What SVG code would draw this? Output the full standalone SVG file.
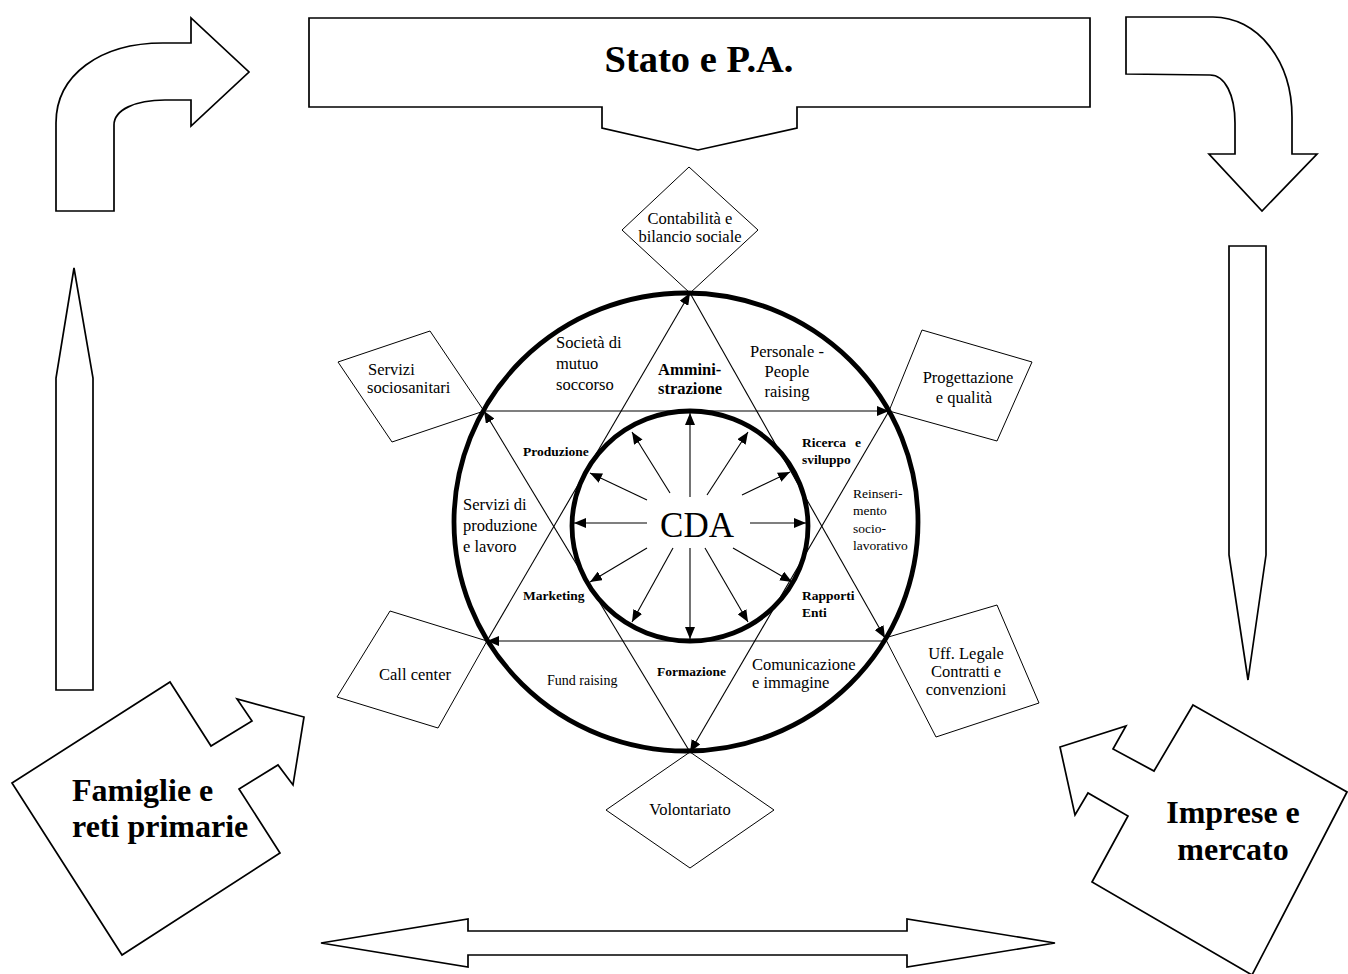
<svg xmlns="http://www.w3.org/2000/svg" width="1348" height="974" viewBox="0 0 1348 974">
<defs>
<style>
.sh{fill:#fff;stroke:#000;stroke-width:1.7;stroke-linejoin:miter}
.dm{fill:#fff;stroke:#000;stroke-width:1}
.ring{fill:none;stroke:#000;stroke-width:4.8}
.ln{fill:none;stroke:#000;stroke-width:1.1}
.t{font-family:"Liberation Serif","Times New Roman",serif;font-size:16.5px;fill:#000}
.s{font-size:13.5px}
.b{font-weight:bold}
.big{font-family:"Liberation Serif","Times New Roman",serif;font-weight:bold;fill:#000}
.m{text-anchor:middle}
</style>
<marker id="ah" viewBox="0 0 12 10" refX="12" refY="5" markerWidth="12" markerHeight="10" markerUnits="userSpaceOnUse" orient="auto">
<path d="M0,0 L12,5 L0,10 Z" fill="#000"/>
</marker>
</defs>
<rect width="1348" height="974" fill="#fff"/>

<g id="stato">
<path class="sh" d="M309,18 L1090,18 L1090,107 L797,107 L797,128 L698,150 L602,128 L602,107 L309,107 Z"/>
<text class="big m" x="699" y="72" style="font-size:38.5px">Stato e P.A.</text>
</g>

<g id="arrow-topleft">
<path class="sh" d="M56,211 L56,123 C56,75 100,43 163,43 L191,43 L191,18 L249,72 L191,126 L191,100 L165,100 C135,100 114,110 114,125 L114,211 Z"/>
</g>

<g id="arrow-topright">
<path class="sh" d="M1126,17 L1213,17 C1257,17 1292,60 1292,117 L1292,154 L1317,154 L1262,211 L1209,154 L1235,154 L1235,123 C1235,95 1225,75 1210,75 L1126,74 Z"/>
</g>

<g id="arrow-left">
<path class="sh" d="M74,268 L93,378 L93,690 L56,690 L56,378 Z"/>
</g>

<g id="arrow-right">
<path class="sh" d="M1229,246 L1266,246 L1266,555 L1248,680 L1229,555 Z"/>
</g>

<g id="arrow-bottom">
<path class="sh" d="M321,943 L468,919 L468,931 L907,931 L907,919 L1055,943 L907,967 L907,955 L468,955 L468,967 Z"/>
</g>

<g id="famiglie">
<path class="sh" d="M12,783 L170,682 L211,746 L252,721 L237,699 L304,717 L293,785 L278,765 L239,789 L280,853 L122,955 Z"/>
<text class="big" x="72" y="801" style="font-size:32px">Famiglie e</text>
<text class="big" x="72" y="837" style="font-size:32px">reti primarie</text>
</g>

<g id="imprese">
<path class="sh" d="M1193,705 L1347,792 L1252,975 L1092,882 L1128,816 L1088,793 L1075,815 L1060,747 L1126,726 L1113,749 L1154,771 Z"/>
<text class="big m" x="1233" y="823" style="font-size:32px">Imprese e</text>
<text class="big m" x="1233" y="860" style="font-size:32px">mercato</text>
</g>

<g id="d-contabilita">
<path class="dm" d="M689,167 L758,230 L690,293 L622,230 Z"/>
<text class="t m" x="690" y="224">Contabilità e</text>
<text class="t m" x="690" y="242">bilancio sociale</text>
</g>

<g id="d-servizi-socio">
<path class="dm" d="M338,362 L430,331 L484,411 L392,442 Z"/>
<text class="t" x="368" y="375">Servizi</text>
<text class="t" x="367" y="393">sociosanitari</text>
</g>

<g id="d-progettazione">
<path class="dm" d="M889,411 L922,330 L1032,362 L997,441 Z"/>
<text class="t m" x="968" y="383">Progettazione</text>
<text class="t m" x="964" y="403">e qualità</text>
</g>

<g id="d-callcenter">
<path class="dm" d="M390,611 L487,641 L438,728 L337,697 Z"/>
<text class="t m" x="415" y="680">Call center</text>
</g>

<g id="d-legale">
<path class="dm" d="M885,638 L997,605 L1039,703 L936,737 Z"/>
<text class="t m" x="966" y="659">Uff. Legale</text>
<text class="t m" x="966" y="677">Contratti e</text>
<text class="t m" x="966" y="695">convenzioni</text>
</g>

<g id="d-volontariato">
<path class="dm" d="M690,752 L774,810 L690,868 L606,810 Z"/>
<text class="t m" x="690" y="815">Volontariato</text>
</g>

<g id="rings">
<ellipse class="ring" cx="686" cy="522" rx="232" ry="229"/>
<ellipse class="ring" cx="690" cy="526" rx="118" ry="115"/>
</g>

<g id="connectors">
<line class="ln" x1="487" y1="641" x2="690" y2="293" marker-end="url(#ah)"/>
<line class="ln" x1="690" y1="293" x2="885" y2="638" marker-end="url(#ah)"/>
<line class="ln" x1="885" y1="641" x2="487" y2="641" marker-end="url(#ah)"/>
<line class="ln" x1="484" y1="411" x2="889" y2="411" marker-end="url(#ah)"/>
<line class="ln" x1="889" y1="411" x2="690" y2="752" marker-end="url(#ah)"/>
<line class="ln" x1="690" y1="752" x2="484" y2="411" marker-end="url(#ah)"/>
<line class="ln" x1="690" y1="497" x2="690" y2="413" marker-end="url(#ah)"/>
<line class="ln" x1="690" y1="548" x2="690" y2="639" marker-end="url(#ah)"/>
<line class="ln" x1="647" y1="523" x2="574" y2="523" marker-end="url(#ah)"/>
<line class="ln" x1="750" y1="523" x2="806" y2="523" marker-end="url(#ah)"/>
<line class="ln" x1="670" y1="493" x2="632" y2="432" marker-end="url(#ah)"/>
<line class="ln" x1="647" y1="500" x2="590" y2="473" marker-end="url(#ah)"/>
<line class="ln" x1="707" y1="495" x2="748" y2="432" marker-end="url(#ah)"/>
<line class="ln" x1="742" y1="495" x2="790" y2="472" marker-end="url(#ah)"/>
<line class="ln" x1="647" y1="548" x2="590" y2="582" marker-end="url(#ah)"/>
<line class="ln" x1="673" y1="548" x2="632" y2="622" marker-end="url(#ah)"/>
<line class="ln" x1="733" y1="548" x2="792" y2="582" marker-end="url(#ah)"/>
<line class="ln" x1="705" y1="548" x2="748" y2="622" marker-end="url(#ah)"/>
</g>

<g id="labels">
<text class="t" x="556" y="348">Società di</text>
<text class="t" x="556" y="369">mutuo</text>
<text class="t" x="556" y="390">soccorso</text>
<text class="t b" x="658" y="375">Ammini-</text>
<text class="t b" x="658" y="394">strazione</text>
<text class="t m" x="787" y="357">Personale -</text>
<text class="t m" x="787" y="377">People</text>
<text class="t m" x="787" y="397">raising</text>
<text class="t s b" x="523" y="456">Produzione</text>
<text class="t s b" x="802" y="447">Ricerca</text>
<text class="t s b" x="855" y="447">e</text>
<text class="t s b" x="802" y="464">sviluppo</text>
<text class="t s" x="853" y="498">Reinseri-</text>
<text class="t s" x="853" y="515">mento</text>
<text class="t s" x="853" y="533">socio-</text>
<text class="t s" x="853" y="550">lavorativo</text>
<text class="t" x="463" y="510">Servizi di</text>
<text class="t" x="463" y="531">produzione</text>
<text class="t" x="463" y="552">e lavoro</text>
<text class="t m" x="697" y="537" style="font-size:35px">CDA</text>
<text class="t s b" x="523" y="600">Marketing</text>
<text class="t s b" x="802" y="600">Rapporti</text>
<text class="t s b" x="802" y="617">Enti</text>
<text class="t" x="547" y="685" style="font-size:14px">Fund raising</text>
<text class="t s b" x="657" y="676">Formazione</text>
<text class="t" x="752" y="670">Comunicazione</text>
<text class="t" x="752" y="688">e immagine</text>
</g>
</svg>
